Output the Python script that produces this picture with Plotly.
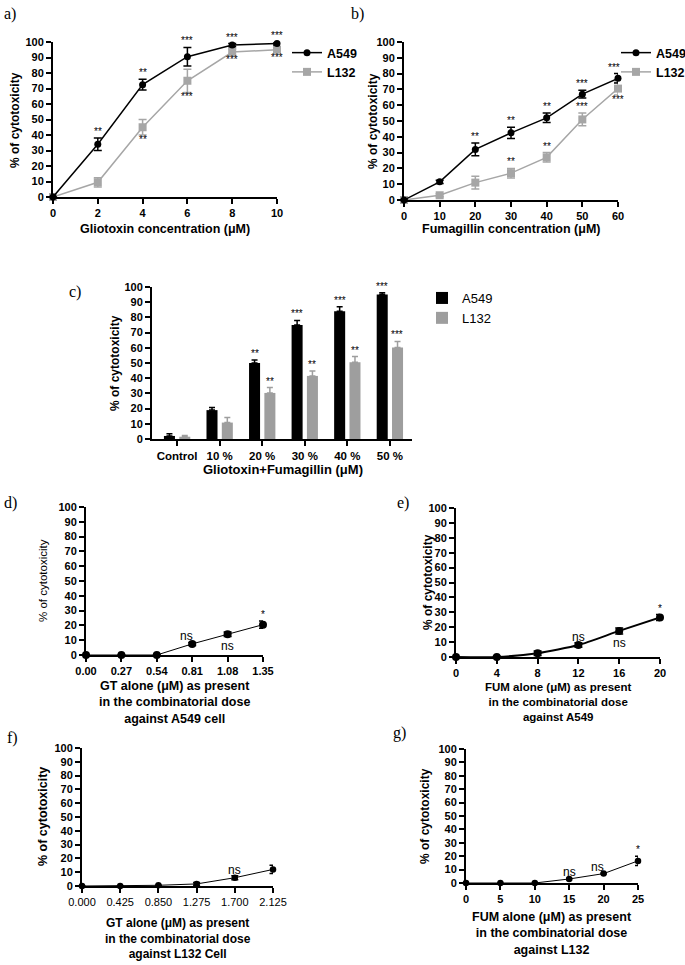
import plotly.graph_objects as go

# ---------------- data ----------------
# Panel a: Gliotoxin
a_x = [0, 2, 4, 6, 8, 10]
a_A549 = [0, 34, 72.5, 90.5, 98, 99]
a_A549_err = [0, 4, 3.5, 6, 1, 1]
a_L132 = [0, 9.5, 45, 75, 93.5, 95]
a_L132_err = [0, 3, 5, 7.5, 2, 2]
a_A549_sig = ["", "**", "**", "***", "***", "***"]
a_L132_sig = ["", "", "**", "***", "***", "***"]
a_L132_side = ["", "", "below", "below", "below", "below"]

# Panel b: Fumagillin
b_x = [0, 10, 20, 30, 40, 50, 60]
b_A549 = [0, 11.5, 32, 42.5, 52, 67, 77]
b_A549_err = [0, 1, 4, 3.5, 3, 2.5, 3]
b_L132 = [0, 3, 11, 17, 27, 51, 70.5]
b_L132_err = [0, 1, 4, 3, 3, 4, 4]
b_A549_sig = ["", "", "**", "**", "**", "***", "***"]
b_L132_sig = ["", "", "", "**", "**", "***", "***"]
b_L132_side = ["", "", "", "above", "above", "above", "below"]

# Panel c: combination
c_cats = ["Control", "10 %", "20 %", "30 %", "40 %", "50 %"]
c_A549 = [2, 19, 50, 75, 84, 95]
c_A549_err = [1.5, 1.8, 2, 3, 3, 1.2]
c_L132 = [1.5, 10.8, 30.3, 41.5, 50.5, 60.2]
c_L132_err = [0.8, 3.3, 3.5, 3.3, 3.7, 4]
c_A549_sig = ["", "", "**", "***", "***", "***"]
c_L132_sig = ["", "", "**", "**", "**", "***"]

# Panel d: GT alone vs A549
d_x = [0, 0.27, 0.54, 0.81, 1.08, 1.35]
d_y = [0, 0, 0, 7.5, 14, 20.5]
d_err = [0, 0, 0, 1, 1.5, 2.5]
d_sig = ["", "", "", "ns", "ns", "*"]
d_side = ["", "", "", "above", "below", "above"]

# Panel e: FUM alone vs A549
e_x = [0, 4, 8, 12, 16, 20]
e_y = [0, 0, 2.5, 8, 17.5, 26.5]
e_err = [0, 0.5, 1.5, 1.5, 2, 2]
e_sig = ["", "", "", "ns", "ns", "*"]
e_side = ["", "", "", "above", "below", "above"]

# Panel f: GT alone vs L132
f_x = [0, 0.425, 0.85, 1.275, 1.7, 2.125]
f_y = [0, 0, 0.5, 1.5, 6, 12]
f_err = [0, 0, 0, 1, 1.5, 3]
f_sig = ["", "", "", "", "ns", ""]
f_side = ["", "", "", "", "above", ""]

# Panel g: FUM alone vs L132
g_x = [0, 5, 10, 15, 20, 25]
g_y = [0, 0, 0, 3, 7, 16.5]
g_err = [0, 0, 0, 0.5, 0.5, 3.5]
g_sig = ["", "", "", "ns", "ns", "*"]
g_side = ["", "", "", "above", "above", "above"]

y_ticks = list(range(0, 101, 10))

# ---------------- style ----------------
W, H = 685, 965
FONT = "Liberation Sans"
SERIF = "Liberation Serif"
BLACK = "#000000"
GRAY = "#a6a6a6"
BARGRAY = "#9e9e9e"


def fx(p):
    return p / W


def fy(p):
    return 1 - p / H


fig = go.Figure()
layout = dict(
    width=W, height=H, margin=dict(l=0, r=0, t=0, b=0, pad=0, autoexpand=False),
    paper_bgcolor="white", plot_bgcolor="white", showlegend=True,
    barmode="group", bargap=0.28, bargroupgap=0.28,
)
annotations = []


def add_axes(n, xbox, ybox, xrange, xdtick=None, xfmt=None, xweight="bold",
             xsize=11, ysize=11, categorical=False):
    xk = "xaxis" if n == 1 else f"xaxis{n}"
    yk = "yaxis" if n == 1 else f"yaxis{n}"
    xa = "x" if n == 1 else f"x{n}"
    ya = "y" if n == 1 else f"y{n}"
    common = dict(showgrid=False, zeroline=False, showline=True, linewidth=2,
                  linecolor=BLACK, ticks="outside", ticklen=5, tickwidth=1.5,
                  tickcolor=BLACK, fixedrange=True, automargin=False)
    xdict = dict(common, domain=[fx(xbox[0]), fx(xbox[1])], anchor=ya, range=xrange,
                 tickfont=dict(family=FONT, size=xsize, color=BLACK, weight=xweight))
    if categorical:
        xdict["type"] = "category"
    else:
        xdict["dtick"] = xdtick
        xdict["tick0"] = 0
        if xfmt:
            xdict["tickformat"] = xfmt
    ydict = dict(common, domain=[fy(ybox[1]), fy(ybox[0])], anchor=xa, range=[0, 100],
                 tickvals=y_ticks,
                 tickfont=dict(family=FONT, size=ysize, color=BLACK, weight="bold"))
    layout[xk] = xdict
    layout[yk] = ydict
    return xa, ya


def text(x, y, s, size=12, weight="bold", angle=0, family=FONT, align="center"):
    annotations.append(dict(
        x=fx(x), y=fy(y), xref="paper", yref="paper", text=s, showarrow=False,
        textangle=angle, align=align, xanchor="center", yanchor="middle",
        font=dict(family=family, size=size, color=BLACK, weight=weight)))


def sig(xa, ya, xs, ys, errs, labels, sides, size=10, xshifts=None, base_xshift=0):
    for i, lab in enumerate(labels):
        if not lab:
            continue
        side = sides[i] if sides else "above"
        up = side == "above"
        yv = ys[i] + errs[i] if up else ys[i] - errs[i]
        star = "*" in lab
        annotations.append(dict(
            x=xs[i], y=yv, xref=xa, yref=ya, text=lab, showarrow=False,
            xanchor="center", yanchor="bottom" if up else "top",
            yshift=(-1 if star else -3) if up else (3 if star else 0),
            xshift=base_xshift + (xshifts[i] if xshifts else 0),
            font=dict(family=FONT, size=size if star else 12, color=BLACK)))


def err(arr, color, width=4, thick=1.5):
    return dict(type="data", array=arr, color=color, thickness=thick, width=width, visible=True)


# ---------- Panel a ----------
xa, ya = add_axes(1, (53, 277), (42, 197), [0, 10], 2)
fig.add_trace(go.Scatter(x=a_x, y=a_L132, name="L132", mode="lines+markers",
                         line=dict(color=GRAY, width=1.5),
                         marker=dict(symbol="square", size=8, color=GRAY),
                         error_y=err(a_L132_err, GRAY), xaxis=xa, yaxis=ya,
                         legend="legend", cliponaxis=False))
fig.add_trace(go.Scatter(x=a_x, y=a_A549, name="A549", mode="lines+markers",
                         line=dict(color=BLACK, width=1.5),
                         marker=dict(symbol="circle", size=7, color=BLACK),
                         error_y=err(a_A549_err, BLACK), xaxis=xa, yaxis=ya,
                         legend="legend", cliponaxis=False))
sig(xa, ya, a_x, a_A549, a_A549_err, a_A549_sig, None)
sig(xa, ya, a_x, a_L132, a_L132_err, a_L132_sig, a_L132_side)
text(165, 229, "Gliotoxin concentration (μM)", size=12.5)
text(15, 120, "% of cytotoxicity", size=12, angle=-90)
text(10, 14, "a)", size=16, weight="normal", family=SERIF)

# ---------- Panel b ----------
xa, ya = add_axes(2, (404, 618), (42, 200), [0, 60], 10)
fig.add_trace(go.Scatter(x=b_x, y=b_L132, name="L132", mode="lines+markers",
                         line=dict(color=GRAY, width=1.5),
                         marker=dict(symbol="square", size=8, color=GRAY),
                         error_y=err(b_L132_err, GRAY), xaxis=xa, yaxis=ya,
                         legend="legend2", cliponaxis=False))
fig.add_trace(go.Scatter(x=b_x, y=b_A549, name="A549", mode="lines+markers",
                         line=dict(color=BLACK, width=1.5),
                         marker=dict(symbol="circle", size=7, color=BLACK),
                         error_y=err(b_A549_err, BLACK), xaxis=xa, yaxis=ya,
                         legend="legend2", cliponaxis=False))
sig(xa, ya, b_x, b_A549, b_A549_err, b_A549_sig, None,
    xshifts=[0, 0, 0, 0, 0, 0, -4])
sig(xa, ya, b_x, b_L132, b_L132_err, b_L132_sig, b_L132_side)
text(511, 229, "Fumagillin concentration (μM)", size=12.5)
text(373, 121, "% of cytotoxicity", size=12, angle=-90)
text(357, 14, "b)", size=16, weight="normal", family=SERIF)

# ---------- Panel c ----------
xa, ya = add_axes(3, (152, 412), (287, 439), [-0.59, 5.52], categorical=True, xsize=11.5)
fig.add_trace(go.Bar(x=c_cats, y=c_A549, name="A549", marker=dict(color=BLACK, line=dict(width=0)),
                     error_y=dict(type="data", symmetric=False, array=c_A549_err,
                                  arrayminus=[0] * len(c_A549), color=BLACK, thickness=1.5, width=3),
                     xaxis=xa, yaxis=ya, legend="legend3"))
fig.add_trace(go.Bar(x=c_cats, y=c_L132, name="L132", marker=dict(color=BARGRAY, line=dict(width=0)),
                     error_y=dict(type="data", symmetric=False, array=c_L132_err,
                                  arrayminus=[0] * len(c_L132), color=BARGRAY, thickness=1.5, width=3),
                     xaxis=xa, yaxis=ya, legend="legend3"))
sig(xa, ya, c_cats, c_A549, c_A549_err, c_A549_sig, None, base_xshift=-7.5)
sig(xa, ya, c_cats, c_L132, c_L132_err, c_L132_sig, None, base_xshift=7.5)
text(283, 470, "Gliotoxin+Fumagillin (μM)", size=13)
text(115, 363, "% of cytotoxicity", size=12, angle=-90)
text(75, 292, "c)", size=16, weight="normal", family=SERIF)

# ---------- Panel d ----------
xa, ya = add_axes(4, (86, 263), (507, 655), [0, 1.35], 0.27, ".2f")
fig.add_trace(go.Scatter(x=d_x, y=d_y, name="d", mode="lines+markers", showlegend=False,
                         line=dict(color=BLACK, width=1),
                         marker=dict(symbol="circle", size=8, color=BLACK),
                         error_y=err(d_err, BLACK, width=4), xaxis=xa, yaxis=ya,
                         cliponaxis=False))
sig(xa, ya, d_x, d_y, d_err, d_sig, d_side, xshifts=[0, 0, 0, -6, 0, 0])
text(174.5, 702, "GT alone (μM) as present<br>in the combinatorial dose<br>against A549 cell", size=12.5)
text(43, 581, "% of cytotoxicity", size=11.5, weight="normal", angle=-90)
text(10, 503, "d)", size=16, weight="normal", family=SERIF)

# ---------- Panel e ----------
xa, ya = add_axes(5, (456, 660), (508, 657), [0, 20], 4)
fig.add_trace(go.Scatter(x=e_x, y=e_y, name="e", mode="lines+markers", showlegend=False,
                         line=dict(color=BLACK, width=2, shape="spline", smoothing=0.6),
                         marker=dict(symbol="circle", size=8, color=BLACK),
                         error_y=err(e_err, BLACK, width=4), xaxis=xa, yaxis=ya,
                         cliponaxis=False))
sig(xa, ya, e_x, e_y, e_err, e_sig, e_side)
text(558, 702, "FUM alone (μM) as present<br>in the combinatorial dose<br>against A549", size=11.5)
text(428, 582, "% of cytotoxicity", size=12, angle=-90)
text(403, 503, "e)", size=16, weight="normal", family=SERIF)

# ---------- Panel f ----------
xa, ya = add_axes(6, (82, 273), (748, 886), [0, 2.125], 0.425, ".3f", xweight="normal", xsize=11)
fig.add_trace(go.Scatter(x=f_x, y=f_y, name="f", mode="lines+markers", showlegend=False,
                         line=dict(color=BLACK, width=1),
                         marker=dict(symbol="circle", size=6.5, color=BLACK),
                         error_y=err(f_err, BLACK, width=3.5), xaxis=xa, yaxis=ya,
                         cliponaxis=False))
sig(xa, ya, f_x, f_y, f_err, f_sig, f_side)
text(177.5, 938, "GT alone (μM) as present<br>in the combinatorial dose<br>against L132 Cell", size=12)
text(43, 817, "% of cytotoxicity", size=12.5, angle=-90)
text(12, 738, "f)", size=16, weight="normal", family=SERIF)

# ---------- Panel g ----------
xa, ya = add_axes(7, (466, 638), (749, 883), [0, 25], 5)
fig.add_trace(go.Scatter(x=g_x, y=g_y, name="g", mode="lines+markers", showlegend=False,
                         line=dict(color=BLACK, width=1),
                         marker=dict(symbol="circle", size=6.5, color=BLACK),
                         error_y=err(g_err, BLACK, width=3), xaxis=xa, yaxis=ya,
                         cliponaxis=False))
sig(xa, ya, g_x, g_y, g_err, g_sig, g_side, xshifts=[0, 0, 0, 0, -6, 0])
text(552, 933, "FUM alone (μM) as present<br>in the combinatorial dose<br>against L132", size=12.5)
text(425, 816, "% of cytotoxicity", size=12, angle=-90)
text(400, 733, "g)", size=16, weight="normal", family=SERIF)

# ---------- legends ----------
leg_common = dict(xanchor="left", yanchor="top", bgcolor="rgba(0,0,0,0)",
                  itemwidth=30, tracegroupgap=0, itemclick=False, itemdoubleclick=False)
layout["legend"] = dict(leg_common, x=fx(287), y=fy(38), traceorder="reversed",
                        font=dict(family=FONT, size=12.5, color=BLACK, weight="bold"))
layout["legend2"] = dict(leg_common, x=fx(616), y=fy(38), traceorder="reversed",
                         font=dict(family=FONT, size=12.5, color=BLACK, weight="bold"))
layout["legend3"] = dict(leg_common, x=fx(422), y=fy(283), traceorder="normal",
                         font=dict(family=FONT, size=13, color=BLACK))
layout["annotations"] = annotations

fig.update_layout(**layout)
# remove the default page margin so the figure fills the 685x965 window exactly
fig.write_html("out.html", config={"displayModeBar": False},
               post_script="document.body.style.margin='0';")
